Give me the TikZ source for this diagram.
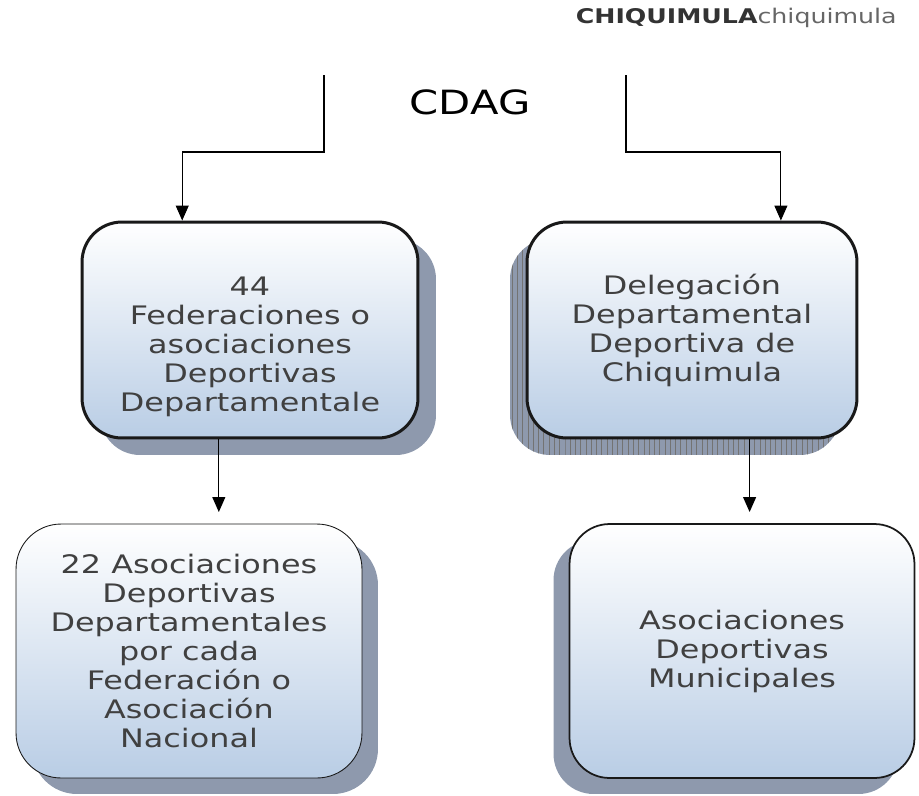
\documentclass[tikz,border=0pt]{standalone}
\usepackage{fontspec}
\setmainfont[FakeStretch=1.25]{DejaVu Sans}
\usepackage{tikz}
\usetikzlibrary{arrows.meta,shadows,patterns,calc}

\definecolor{boxblue}{HTML}{B9CDE5}
\definecolor{shadowgray}{HTML}{8E99AD}
\definecolor{txtgray}{HTML}{404040}

\tikzset{
  orgbox/.style={draw=black!90, rounded corners=0.8cm, align=center,
    top color=white, bottom color=boxblue, text=txtgray,
    font=\fontsize{14.5}{16.5}\selectfont, inner sep=0pt},
  arr/.style={-{Triangle[length=3mm,width=2.6mm]}, semithick}
}

\begin{document}
\begin{tikzpicture}[x=0.02cm, y=-0.02cm]
			\useasboundingbox (0, 0) rectangle (919, 795);

			% Titles
			\node[anchor=east, inner sep=0pt, font=\fontsize{11.5}{13}\selectfont] (city) at (897, 18)
				{\textbf{\color{black!80}CHIQUIMULA}{\color{black!60}chiquimula}};
			\node[font=\fontsize{19}{22}\selectfont] (cdag) at (470, 102) {CDAG};

			% Boxes
			\node[orgbox, line width=1.7pt, minimum width=6.72cm, minimum height=4.32cm,
				drop shadow={shadow xshift=0.36cm, shadow yshift=-0.34cm, fill=shadowgray, opacity=1}]
				(fed) at (250, 330) {\rule{0pt}{30pt}44\\Federaciones o\\asociaciones\\Deportivas\\Departamentale};
			\node[orgbox, line width=1.7pt, minimum width=6.6cm, minimum height=4.32cm,
				drop shadow={shadow xshift=-0.34cm, shadow yshift=-0.34cm, fill=shadowgray, opacity=1},
				drop shadow={shadow xshift=-0.34cm, shadow yshift=-0.34cm, pattern=vertical lines, pattern color=black!55, opacity=1}]
				(dlg) at (692, 330) {Delegación\\Departamental\\Deportiva de\\Chiquimula};
			\node[orgbox, line width=0.5pt, minimum width=6.92cm, minimum height=5.08cm, rounded corners=0.9cm,
				drop shadow={shadow xshift=0.32cm, shadow yshift=-0.32cm, fill=shadowgray, opacity=1}]
				(asd) at (189, 651) {22 Asociaciones\\Deportivas\\Departamentales\\por cada\\Federación o\\Asociación\\Nacional};
			\node[orgbox, line width=1pt, minimum width=6.9cm, minimum height=5.08cm,
				drop shadow={shadow xshift=-0.32cm, shadow yshift=-0.32cm, fill=shadowgray, opacity=1}]
				(mun) at (742, 651) {Asociaciones\\Deportivas\\Municipales};

			% Connectors
			\coordinate (topL) at (324, 75);
			\coordinate (topR) at (626, 75);
			\coordinate (fedIn) at ($(fed.north west)!0.3!(fed.north east)$);
			\coordinate (dlgIn) at ($(dlg.north west)!0.767!(dlg.north east)$);
			\draw[arr] (topL) |- (240, 152) -| (fedIn);
			\draw[arr] (topR) |- (700, 152) -| (dlgIn);

			\coordinate (fedOut) at ($(fed.south west)!0.408!(fed.south east)$);
			\coordinate (dlgOut) at ($(dlg.south west)!0.673!(dlg.south east)$);
			\coordinate (asdIn) at (fedOut |- 0, 512);
			\coordinate (munIn) at (dlgOut |- 0, 512);
			\draw[arr] (fedOut) -- (asdIn);
			\draw[arr] (dlgOut) -- (munIn);
		\end{tikzpicture}
\end{document}
